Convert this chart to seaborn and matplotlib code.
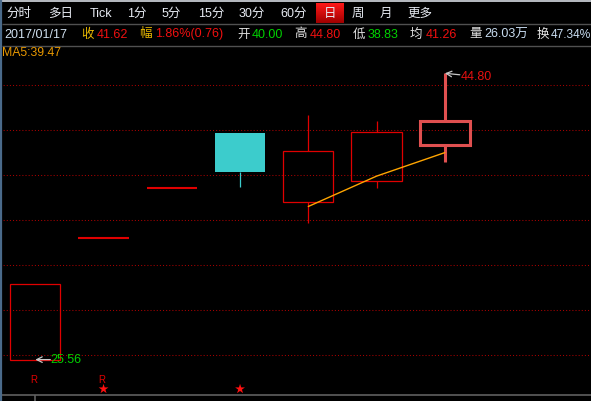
import numpy as np
import pandas as pd
import matplotlib
matplotlib.use("Agg")
import matplotlib.pyplot as plt
import seaborn as sns
from matplotlib.patches import Rectangle

# ---------------- data ----------------
days = [0, 1, 2, 3, 4, 5, 6]
opens = [25.56, 33.74, 37.11, 40.82, 36.12, 37.53, 40.00]
closes = [30.67, 33.74, 37.11, 38.18, 39.57, 40.85, 41.62]
highs = [30.67, 33.74, 37.11, 40.82, 41.99, 41.59, 44.80]
lows = [25.56, 33.74, 37.11, 37.17, 34.75, 37.10, 38.83]
ma5_days = [4, 5, 6]
ma5_vals = [35.85, 37.89, 39.47]
grid_levels = [43.99, 40.97, 37.94, 34.91, 31.95, 28.92, 25.90]
r_days = [0, 1]
star_days = [1, 3]
menu_items = ["分时", "多日", "Tick", "1分", "5分", "15分", "30分", "60分", "日", "周", "月", "更多"]

sns.set_style("dark")
plt.rcParams["font.family"] = ["Liberation Sans", "Noto Sans CJK SC", "DejaVu Sans"]

W, H = 591, 401
fig = plt.figure(figsize=(W / 100, H / 100), dpi=100, facecolor="black")
ax = fig.add_axes([0, 0, 1, 1])
ax.set_facecolor("black")

# pixel mapping: x_px = 35.3 + i*68.25 ; price = 44.80 - (y_px-73.3)*k
k = 0.0672
ax.set_xlim(-35.3 / 68.25, (W - 35.3) / 68.25)
ax.set_ylim(44.80 - (H - 73.3) * k, 44.80 + 73.3 * k)
ax.axis("off")

# grid
for g in grid_levels:
    ax.axhline(g, color="#a80000", lw=0.75, ls=(0, (1, 2)), zorder=1)

RED = "#e00000"
CYAN = "#3ccccc"
LAST = "#e05050"
bw = 0.735
df = pd.DataFrame(dict(day=days, o=opens, c=closes, h=highs, l=lows))
for i, r in df.iterrows():
    last = r.day == days[-1]
    lw = 2.2 if last else 0.9
    top, bot = max(r.o, r.c), min(r.o, r.c)
    if r.o == r.c:
        ax.hlines(r.c, r.day - bw / 2, r.day + bw / 2, color=RED, lw=1.5, zorder=3)
        continue
    up = r.c > r.o
    col = (LAST if last else RED) if up else CYAN
    if up:
        ax.bar(r.day, top - bot, bottom=bot, width=bw, fill=False, edgecolor=col,
               linewidth=lw, zorder=3)
    else:
        ax.bar(r.day, top - bot, bottom=bot, width=bw, color=col, edgecolor=col,
               linewidth=0, zorder=3)
    if r.h > top:
        ax.vlines(r.day, top, r.h, color=col, lw=lw, zorder=3)
    if r.l < bot:
        ax.vlines(r.day, r.l, bot, color=col, lw=lw, zorder=3)

# MA5
ma = pd.DataFrame(dict(day=ma5_days, ma=ma5_vals))
sns.lineplot(data=ma, x="day", y="ma", color="#ffa500", lw=1.0, ax=ax, zorder=4)
ax.axis("off")

# extreme annotations
ax.annotate("", xy=(days[0], min(lows)), xytext=(days[0] + 0.22, min(lows)),
            arrowprops=dict(arrowstyle="->", color="#c8c8c8", lw=0.9, shrinkA=0, shrinkB=0))
ax.text(days[0] + 0.22, min(lows), f"{min(lows):.2f}", color="#00d000", fontsize=9,
        ha="left", va="center")
ax.annotate("", xy=(days[-1], max(highs)), xytext=(days[-1] + 0.22, max(highs) - 0.1),
            arrowprops=dict(arrowstyle="->", color="#c8c8c8", lw=0.9, shrinkA=0, shrinkB=0))
ax.text(days[-1] + 0.23, max(highs) - 0.25, f"{max(highs):.2f}", color="#e81010",
        fontsize=9, ha="left", va="center")

# signals below chart
trans = ax.get_xaxis_transform()
for d in r_days:
    ax.text(d - 0.02, 1 - 380 / H, "R", color="#e00000", fontsize=7, ha="center",
            va="center", transform=trans)
sdf = pd.DataFrame(dict(day=star_days, y=[1 - 389 / H] * len(star_days)))
sns.scatterplot(data=sdf, x="day", y="y", marker="*", s=55, color="#ff1010",
                edgecolor="none", transform=trans, ax=ax, zorder=5)
ax.axis("off")

# ---------------- chrome in pixel coords ----------------
hd = fig.add_axes([0, 0, 1, 1], facecolor="none")
hd.set_xlim(0, W)
hd.set_ylim(H, 0)
hd.axis("off")
hd.add_patch(Rectangle((0, 0), W, 46, color="black", zorder=0))
hd.axhline(0.7, color="#d8dce4", lw=1.2)
hd.axvline(0.8, color="#4a6a8a", lw=1.6)
hd.hlines([23.5, 45.5], 2, W, color="#505050", lw=1)
hd.hlines(395, 2, W, color="#606060", lw=1.2)
hd.vlines(35, 395, H, color="#606060", lw=1.2)

# 日 highlight box with gradient
grad = np.linspace(1, 0, 50).reshape(-1, 1)
hd.imshow(grad, extent=(316, 344, 23, 3), cmap=matplotlib.colors.LinearSegmentedColormap.from_list(
    "r", ["#a00000", "#ff1818"]), aspect="auto", zorder=1)
hd.set_xlim(0, W)
hd.set_ylim(H, 0)

menu_x = [19, 61, 101, 137, 171, 211, 252, 294, 330, 358, 386, 420]
for lab, x in zip(menu_items, menu_x):
    hd.text(x, 14, lab, color="#e8ecf4", fontsize=9, ha="center", va="center", zorder=2)

row2 = [
    (4, "2017/01/17", "#d0e0f0"), (81, "收", "#e8b800"), (97, "41.62", "#f01010"),
    (139, "幅", "#e8b800"), (155, "1.86%(0.76)", "#f01010"), (237, "开", "#e0e0e0"),
    (252, "40.00", "#00d000"), (294, "高", "#e0e0e0"), (310, "44.80", "#f01010"),
    (353, "低", "#e0e0e0"), (368, "38.83", "#00d000"), (410, "均", "#e0e0e0"),
    (426, "41.26", "#f01010"), (469, "量", "#e0e0e0"), (484, "26.03万", "#c8dcf0"),
    (537, "换", "#e0e0e0"),
]
for x, t, c in row2:
    hd.text(x, 34.5, t, color=c, fontsize=9, ha="left", va="center", zorder=2)
hd.text(551, 34.5, "47.34%", color="#c8dcf0", fontsize=8.6, ha="left", va="center", zorder=2)

hd.text(2, 53.5, f"MA5:{ma5_vals[-1]:.2f}", color="#e89800", fontsize=8.8,
        ha="left", va="center")

fig.savefig("out.png", dpi=100, facecolor="black")
